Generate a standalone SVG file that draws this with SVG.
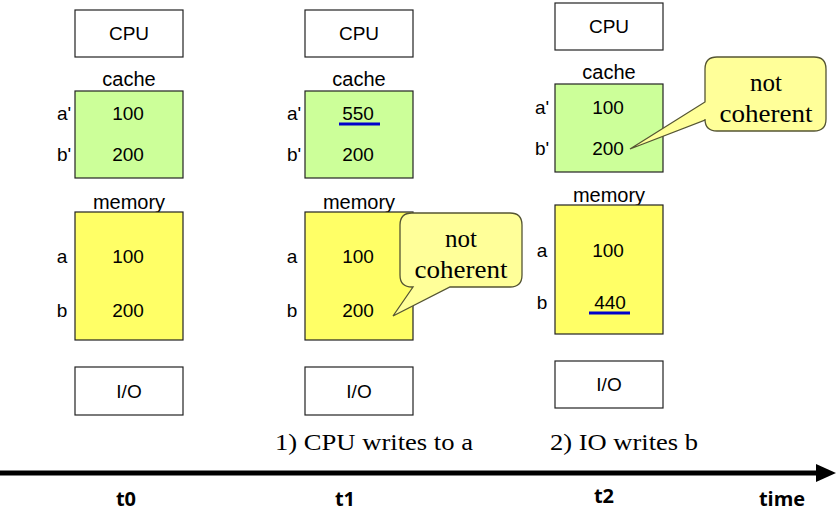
<svg xmlns="http://www.w3.org/2000/svg" width="836" height="511" viewBox="0 0 836 511">
<defs>
<style>
.box{fill:#fff;stroke:#222;stroke-width:1.2}
.cache{fill:#CCFF99;stroke:#222;stroke-width:1.2}
.mem{fill:#FFFF66;stroke:#222;stroke-width:1.2}
.t{font-family:"Liberation Sans",Arial,sans-serif;font-size:19px;fill:#000;text-anchor:middle}
.lbl{font-family:"Liberation Sans",Arial,sans-serif;font-size:20px;fill:#000;text-anchor:middle}
.ser{font-family:"Liberation Serif","Times New Roman",serif;font-size:25px;fill:#000;text-anchor:middle}
.cap{font-family:"Liberation Serif","Times New Roman",serif;font-size:23px;fill:#000}
.tl{font-family:"Open Sans","Liberation Sans",sans-serif;font-size:20px;font-weight:bold;fill:#000;text-anchor:middle}
.call{fill:#FFFF99;stroke:#555533;stroke-width:1.3}
.ul{stroke:#0000CC;stroke-width:3}
</style>
</defs>

<g id="col0">
<g id="cpu0"><rect class="box" x="75" y="10" width="108" height="47"/><text class="t" x="129" y="40">CPU</text></g>
<g id="cache0"><text class="lbl" x="129" y="86">cache</text><rect class="cache" x="75" y="91" width="108" height="87"/>
<text class="t" x="64" y="120">a'</text><text class="t" x="128" y="120">100</text>
<text class="t" x="64" y="161">b'</text><text class="t" x="128" y="161">200</text></g>
<g id="mem0"><text class="lbl" x="129" y="209">memory</text><rect class="mem" x="75" y="212" width="108" height="128"/>
<text class="t" x="62" y="263">a</text><text class="t" x="128" y="263">100</text>
<text class="t" x="62" y="317">b</text><text class="t" x="128" y="317">200</text></g>
<g id="io0"><rect class="box" x="75" y="367" width="108" height="48"/><text class="t" x="129" y="398">I/O</text></g>
</g>

<g id="col1">
<g id="cpu1"><rect class="box" x="305" y="10" width="108" height="47"/><text class="t" x="359" y="40">CPU</text></g>
<g id="cache1"><text class="lbl" x="359" y="86">cache</text><rect class="cache" x="305" y="91" width="108" height="87"/>
<text class="t" x="294" y="120">a'</text><text class="t" x="358" y="120">550</text><line class="ul" x1="339" y1="124" x2="380" y2="124"/>
<text class="t" x="294" y="161">b'</text><text class="t" x="358" y="161">200</text></g>
<g id="mem1"><text class="lbl" x="359" y="209">memory</text><rect class="mem" x="305" y="212" width="108" height="128"/>
<text class="t" x="292" y="263">a</text><text class="t" x="358" y="263">100</text>
<text class="t" x="292" y="317">b</text><text class="t" x="358" y="317">200</text></g>
<g id="io1"><rect class="box" x="305" y="367" width="108" height="48"/><text class="t" x="359" y="398">I/O</text></g>
</g>

<g id="col2">
<g id="cpu2"><rect class="box" x="555" y="3" width="108" height="47"/><text class="t" x="609" y="33">CPU</text></g>
<g id="cache2"><text class="lbl" x="609" y="79">cache</text><rect class="cache" x="555" y="84" width="108" height="88"/>
<text class="t" x="542" y="114">a'</text><text class="t" x="608" y="114">100</text>
<text class="t" x="542" y="155">b'</text><text class="t" x="608" y="155">200</text></g>
<g id="mem2"><text class="lbl" x="609" y="202">memory</text><rect class="mem" x="555" y="205" width="108" height="129"/>
<text class="t" x="542" y="257">a</text><text class="t" x="608" y="257">100</text>
<text class="t" x="542" y="309">b</text><text class="t" x="610" y="309">440</text><line class="ul" x1="589" y1="313" x2="630" y2="313"/></g>
<g id="io2"><rect class="box" x="555" y="361" width="108" height="47"/><text class="t" x="609" y="391">I/O</text></g>
</g>

<g id="callout1">
<path class="call" d="M412,213 H510 Q522,213 522,225 V275 Q522,287 510,287 H450 L393,316 L413,287 H412 Q400,287 400,275 V225 Q400,213 412,213 Z"/>
<text class="ser" x="461" y="247">not</text><text class="ser" x="461" y="278" textLength="93" lengthAdjust="spacingAndGlyphs">coherent</text>
</g>
<g id="callout2">
<path class="call" d="M717,57 H814 Q826,57 826,69 V119 Q826,131 814,131 H717 Q705,131 705,119 V120 L630,149 L705,102 V69 Q705,57 717,57 Z"/>
<text class="ser" x="766" y="91">not</text><text class="ser" x="766" y="122" textLength="93" lengthAdjust="spacingAndGlyphs">coherent</text>
</g>

<g id="connectors">
<line x1="0" y1="473" x2="820" y2="473" stroke="#000" stroke-width="5"/>
<path d="M816,464 L836,473 L816,482 Z" fill="#000"/>
</g>

<g id="labels">
<text class="cap" x="275" y="450" textLength="198" lengthAdjust="spacingAndGlyphs">1) CPU writes to a</text>
<text class="cap" x="550" y="450" textLength="148" lengthAdjust="spacingAndGlyphs">2) IO writes b</text>
<text class="tl" x="126" y="506">t0</text>
<text class="tl" x="345" y="506">t1</text>
<text class="tl" x="604" y="503">t2</text>
<text class="tl" x="782" y="506">time</text>
</g>
</svg>
